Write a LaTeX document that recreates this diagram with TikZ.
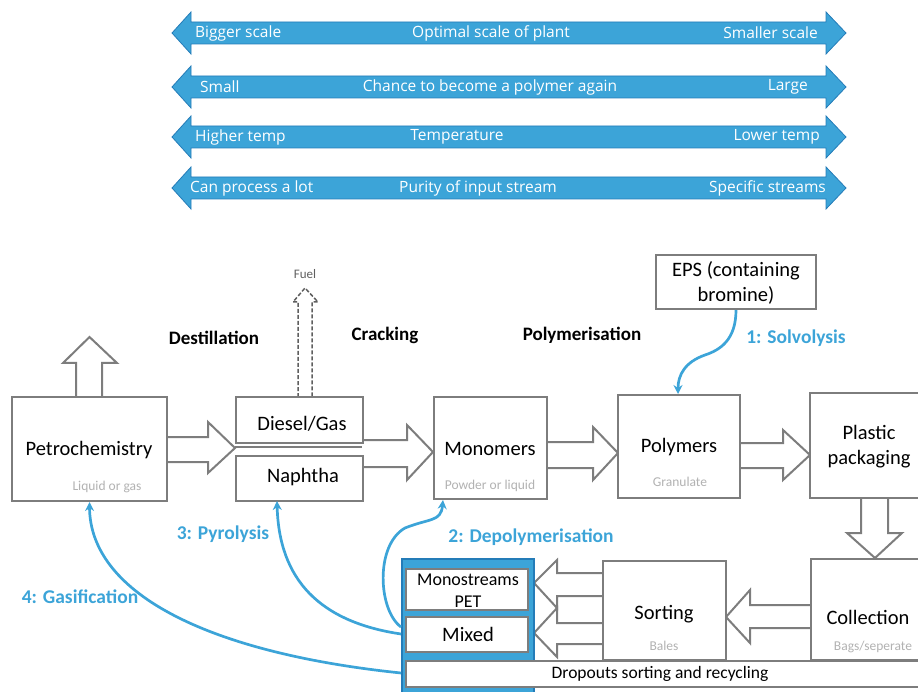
\documentclass[tikz,border=0pt]{standalone}
\usepackage{fontspec}
\setmainfont{Carlito}
\newfontfamily\topfont{Open Sans}
\usetikzlibrary{arrows.meta}
\definecolor{gbord}{RGB}{125,125,125}
\definecolor{lblue}{RGB}{60,164,216}
\definecolor{dblue}{RGB}{36,124,184}
\definecolor{ltgray}{RGB}{178,178,178}
\definecolor{fuelgray}{RGB}{95,95,95}
\newcommand\myDblArrow[1]{%
  \fill[lblue,draw=dblue,line width=0.8pt] (172,#1) -- (191,{#1-21}) -- (191,{#1-11}) -- (826,{#1-11}) -- (826,{#1-21})
    -- (846,#1) -- (826,{#1+21}) -- (826,{#1+11}) -- (191,{#1+11}) -- (191,{#1+21}) -- cycle;}
\begin{document}
\begin{tikzpicture}[x=1pt,y=-1pt,
  box/.style={draw=gbord,line width=2pt,fill=white,inner sep=0pt},
  hollow/.style={draw=gbord,line width=2pt,fill=white,line join=miter},
  toptxt/.style={text=white,font=\topfont\fontsize{15.5}{18}\selectfont,inner sep=0pt},
  maintxt/.style={font=\fontsize{20.5}{25}\selectfont,inner sep=0pt},
  smalltxt/.style={text=ltgray,font=\fontsize{13.5}{16}\selectfont,inner sep=0pt},
  steplbl/.style={font=\bfseries\fontsize{19}{22}\selectfont,inner sep=0pt},
  bluelbl/.style={text=lblue,font=\bfseries\fontsize{19.5}{22}\selectfont,inner sep=0pt},
  curve/.style={draw=lblue,line width=2.7pt,-{Stealth[length=9pt,width=9pt]}}
]
\useasboundingbox (0,0) rectangle (918,692);

% ---------- top scale arrows ----------
\myDblArrow{33}
\myDblArrow{87}
\myDblArrow{137}
\myDblArrow{188}
\node[toptxt,anchor=west] (t1l) at (195,33) {Bigger scale};
\node[toptxt] (t1c) at (491,33) {Optimal scale of plant};
\node[toptxt,anchor=east] (t1r) at (818,33) {Smaller scale};
\node[toptxt,anchor=west] (t2l) at (200,87) {Small};
\node[toptxt] (t2c) at (490,87) {Chance to become a polymer again};
\node[toptxt,anchor=east] (t2r) at (808,87) {Large};
\node[toptxt,anchor=west] (t3l) at (195,137) {Higher temp};
\node[toptxt] (t3c) at (457,137) {Temperature};
\node[toptxt,anchor=east] (t3r) at (820,137) {Lower temp};
\node[toptxt,anchor=west] (t4l) at (190,188) {Can process a lot};
\node[toptxt] (t4c) at (478,188) {Purity of input stream};
\node[toptxt,anchor=east] (t4r) at (826,188) {Specific streams};

% ---------- hollow block arrows ----------
% up from petrochemistry
\draw[hollow] (76,397) -- (76,363) -- (63,363) -- (89.5,337) -- (117,363) -- (102,363) -- (102,397);
% fuel (dashed)
\draw[draw=fuelgray,line width=1.5pt,dashed,dash pattern=on 4pt off 2pt,fill=white]
  (298,397) -- (298,302) -- (293,302) -- (305,288) -- (318,302) -- (312,302) -- (312,397);
\node[text=fuelgray,font=\fontsize{13}{15}\selectfont,inner sep=0pt] (fuel) at (305,274) {Fuel};

% petro -> diesel/naphtha
\draw[hollow] (167,437) -- (208,437) -- (208,422) -- (235,448) -- (208,473) -- (208,462) -- (167,462);
% -> monomers
\draw[hollow] (363,440) -- (407,440) -- (407,425) -- (433,452) -- (407,480) -- (407,467) -- (363,467);
% monomers -> polymers
\draw[hollow] (547,442) -- (593,442) -- (593,427) -- (618,453) -- (593,480) -- (593,468) -- (547,468);
% polymers -> plastic
\draw[hollow] (740,443) -- (783,443) -- (783,430) -- (810,455) -- (783,480) -- (783,468) -- (740,468);
% plastic -> collection (down)
\draw[hollow] (861,498) -- (861,533) -- (847,533) -- (875,558) -- (902,533) -- (888,533) -- (888,498);
% collection -> sorting (left)
\draw[hollow] (811,605) -- (750,605) -- (750,590) -- (726,617) -- (750,643) -- (750,628) -- (811,628);
% sorting -> monostreams
\draw[hollow] (603,573) -- (557,573) -- (557,560) -- (534,583) -- (557,608) -- (557,596) -- (603,596);
% sorting -> mixed
\draw[hollow] (603,623) -- (557,623) -- (557,608) -- (534,633) -- (557,657) -- (557,644) -- (603,644);

% ---------- boxes ----------
\node[box,minimum width=155pt,minimum height=104pt] (petro) at (89.5,449) {};
\node[maintxt] (petrot) at (89,450) {Petrochemistry};
\node[smalltxt] (petros) at (107,487) {Liquid or gas};

\node[box,minimum width=127pt,minimum height=46pt] (diesel) at (299.5,420) {};
\node[maintxt] (dieselt) at (302,424) {Diesel/Gas};
\draw[draw=gbord,line width=1.5pt] (diesel.south west) ++(0,3) -- ++(127,0);
\node[box,minimum width=127pt,minimum height=45pt] (naphtha) at (299.5,478.5) {};
\node[maintxt] (naphthat) at (303,477) {Naphtha};

\node[box,minimum width=113pt,minimum height=102pt] (mono) at (490.5,448) {};
\node[maintxt] (monot) at (490,449) {Monomers};
\node[smalltxt] (monos) at (490,486) {Powder or liquid};

\node[box,minimum width=122pt,minimum height=103pt] (poly) at (679,446.5) {};
\node[maintxt] (polyt) at (679,447) {Polymers};
\node[smalltxt] (polys) at (680,482) {Granulate};

\node[box,minimum width=120pt,minimum height=105pt] (plastic) at (870,445.5) {};
\node[maintxt,align=center] (plastict) at (869,447) {Plastic\\packaging};

\node[box,minimum width=160pt,minimum height=54pt] (eps) at (736,282) {};
\node[maintxt,align=center] (epst) at (736,283) {EPS (containing\\bromine)};

\node[box,minimum width=120pt,minimum height=101pt] (coll) at (871,609.5) {};
\node[maintxt] (collt) at (868,617) {Collection};
\node[smalltxt] (colls) at (873,647) {Bags/seperate};

\node[box,minimum width=123pt,minimum height=99pt] (sort) at (664.5,610.5) {};
\node[maintxt] (sortt) at (664,614) {Sorting};
\node[smalltxt] (sorts) at (664,646) {Bales};

% blue container
\node[draw=dblue,fill=lblue,line width=2pt,inner sep=0pt,minimum width=132pt,minimum height=141pt] (cont) at (468,629.5) {};
\node[box,minimum width=122pt,minimum height=41pt] (monost) at (467,589.5) {};
\node[font=\fontsize{18}{21}\selectfont,align=center,inner sep=0pt] (monostt) at (468,590.5) {Monostreams\\[1pt]PET};
\node[box,minimum width=122pt,minimum height=35pt] (mixed) at (467,634.5) {};
\node[maintxt] (mixedt) at (468,634) {Mixed};
\node[box,minimum width=530pt,minimum height=26pt] (drop) at (671,674) {};
\node[font=\fontsize{17.5}{20}\selectfont,inner sep=0pt] (dropt) at (660,674) {Dropouts sorting and recycling};

% ---------- step labels ----------
\node[steplbl] (dest) at (214,338) {Destillation};
\node[steplbl] (crack) at (385,335) {Cracking};
\node[steplbl] (polym) at (582,335) {Polymerisation};

\node[bluelbl] (solv) at (796,338) {1: Solvolysis};
\node[bluelbl] (depol) at (531,537) {2: Depolymerisation};
\node[bluelbl] (pyro) at (223,534) {3: Pyrolysis};
\node[bluelbl] (gasif) at (80,597) {4: Gasification};

% ---------- recycling curves ----------
\coordinate (gstart) at (cont.west |- 0,673);
\coordinate (pstart) at (cont.west |- 0,634);
\coordinate (dstart) at (cont.west |- 0,627);
\draw[curve] (gstart) .. controls (200,652) and (90,590) .. (petro.south);
\draw[curve] (pstart) .. controls (320,622) and (279,580) .. (277,501);
\draw[curve] (dstart) .. controls (378,610) and (375,545) .. (405,528) .. controls (430,518) and (441,522) .. (443,500);
\draw[curve] (eps.south) .. controls (736,340) and (720,350) .. (705,355) .. controls (685,362) and (678,375) .. (678,394);
\end{tikzpicture}
\end{document}
